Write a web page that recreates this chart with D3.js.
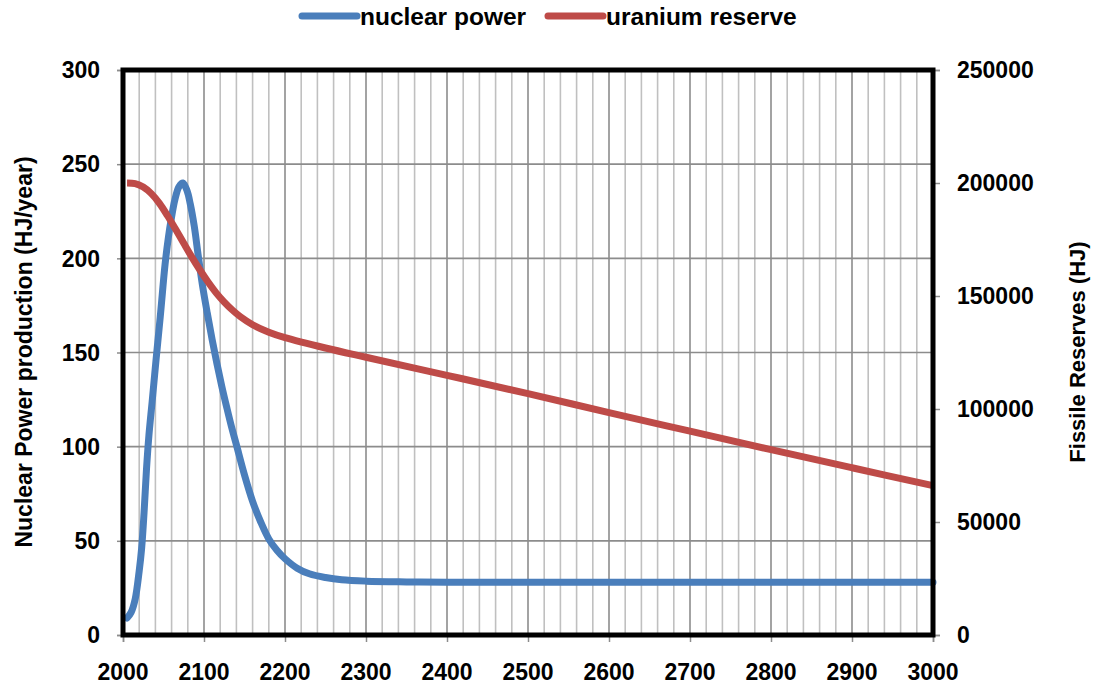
<!DOCTYPE html>
<html>
<head>
<meta charset="utf-8">
<script src="https://cdn.jsdelivr.net/npm/d3@7"></script>
<style>
  html, body { margin: 0; padding: 0; background: #fff; }
  svg { display: block; }
  text { font-family: "Liberation Sans", Arial, sans-serif; font-weight: bold; fill: #000; }
</style>
</head>
<body>
<svg id="chart" width="1095" height="698"></svg>
<script>
// ---- data ----
const powerYears = [2005,2010,2015,2020,2023,2026,2029,2032,2036,2041,2046,2052,2056,2060,2064,2069,2074,2079,2083,2088,2093,2098,2104,2110,2116,2122,2128,2134,2140,2150,2160,2170,2180,2190,2200,2215,2230,2250,2270,2300,2350,2400,2500,2600,2700,2800,2900,3000];
const powerValues = [9,12,19,34,46,65,88,106,124,147,169,197,211,222,231,238,240,236,229,217,201,186,171,157,144,132,121,110.5,101,85,71,60,51,45,40.5,35.5,32.5,30.5,29.3,28.6,28.2,28,28,28,28,28,28,28];
const reserveYears = [2005,2015,2025,2035,2045,2055,2065,2075,2085,2095,2105,2115,2125,2135,2145,2160,2180,2200,2250,2300,2400,2500,2600,2700,2800,2900,3000];
const reserveValues = [200000,199700,198200,195300,191000,185500,179500,173300,167200,161500,156200,151400,147300,143800,140800,137300,134000,131600,127000,122900,114900,106800,98400,90200,82000,74000,66100];
const xTicks = [2000,2100,2200,2300,2400,2500,2600,2700,2800,2900,3000];
const yLeftTicks = [0,50,100,150,200,250,300];
const yRightTicks = [0,50000,100000,150000,200000,250000];
const seriesNames = ["nuclear power", "uranium reserve"];
const seriesColors = ["#4a7ebb", "#be4b48"];
const leftTitle = "Nuclear Power production (HJ/year)";
const rightTitle = "Fissile Reserves (HJ)";

// ---- layout ----
const svg = d3.select("#chart");
const L = 123, R = 933, T = 70, B = 635;
const x = d3.scaleLinear().domain([2000, 3000]).range([L, R]);
const yL = d3.scaleLinear().domain([0, 300]).range([B, T]);
const yR = d3.scaleLinear().domain([0, 250000]).range([B, T]);

// minor vertical grid (every 20 years)
const minor = d3.range(2020, 3000, 20).filter(v => v % 100 !== 0);
svg.append("g").selectAll("line").data(minor).join("line")
  .attr("x1", d => x(d)).attr("x2", d => x(d)).attr("y1", T).attr("y2", B)
  .attr("stroke", "#c0c0c0").attr("stroke-width", 1.6);
// major vertical grid
svg.append("g").selectAll("line").data(xTicks.slice(1, -1)).join("line")
  .attr("x1", d => x(d)).attr("x2", d => x(d)).attr("y1", T).attr("y2", B)
  .attr("stroke", "#8c8c8c").attr("stroke-width", 1.6);
// horizontal grid
svg.append("g").selectAll("line").data(yLeftTicks.slice(1, -1)).join("line")
  .attr("x1", L).attr("x2", R).attr("y1", d => yL(d)).attr("y2", d => yL(d))
  .attr("stroke", "#8c8c8c").attr("stroke-width", 1.6);

// axes (ticks only, gray)
const axL = d3.axisLeft(yL).tickValues(yLeftTicks).tickSize(6).tickFormat("");
const axR = d3.axisRight(yR).tickValues(yRightTicks).tickSize(7).tickFormat("");
const axB = d3.axisBottom(x).tickValues(xTicks).tickSize(7).tickFormat("");
[[axL, `translate(${L},0)`], [axR, `translate(${R},0)`], [axB, `translate(0,${B})`]].forEach(([ax, tr]) => {
  const g = svg.append("g").attr("transform", tr).call(ax);
  g.selectAll("path,line").attr("stroke", "#8c8c8c").attr("stroke-width", 1.5);
});

// series lines
const line = (xs, ys, ysc) => d3.line().x((d, i) => x(xs[i])).y((d, i) => ysc(ys[i]))
  .curve(d3.curveCatmullRom.alpha(0.5))(xs);
svg.append("path").attr("d", line(powerYears, powerValues, yL))
  .attr("fill", "none").attr("stroke", seriesColors[0]).attr("stroke-width", 7)
  .attr("stroke-linecap", "round").attr("stroke-linejoin", "round");
svg.append("path").attr("d", line(reserveYears, reserveValues, yR))
  .attr("fill", "none").attr("stroke", seriesColors[1]).attr("stroke-width", 7)
  .attr("stroke-linecap", "butt").attr("stroke-linejoin", "round");

// border
svg.append("rect").attr("x", L).attr("y", T).attr("width", R - L).attr("height", B - T)
  .attr("fill", "none").attr("stroke", "#000").attr("stroke-width", 5);

// tick labels
const fs = 23;
svg.append("g").selectAll("text").data(yLeftTicks).join("text")
  .attr("x", 100).attr("y", d => yL(d)).attr("dy", "0.36em")
  .attr("text-anchor", "end").attr("font-size", fs).text(d => d);
svg.append("g").selectAll("text").data(yRightTicks).join("text")
  .attr("x", 957).attr("y", d => yR(d)).attr("dy", "0.36em")
  .attr("text-anchor", "start").attr("font-size", fs).text(d => d);
svg.append("g").selectAll("text").data(xTicks).join("text")
  .attr("x", d => x(d)).attr("y", 672).attr("dy", "0.36em")
  .attr("text-anchor", "middle").attr("font-size", fs).text(d => d);

// axis titles
svg.append("text").attr("transform", `translate(32,352) rotate(-90)`)
  .attr("text-anchor", "middle").attr("font-size", 23).text(leftTitle);
svg.append("text").attr("transform", `translate(1085,352) rotate(-90)`)
  .attr("text-anchor", "middle").attr("font-size", 22).text(rightTitle);

// legend
const legX = [302, 548];
seriesNames.forEach((n, i) => {
  svg.append("line").attr("x1", legX[i]).attr("x2", legX[i] + 55).attr("y1", 16).attr("y2", 16)
    .attr("stroke", seriesColors[i]).attr("stroke-width", 7).attr("stroke-linecap", "round");
  svg.append("text").attr("x", legX[i] + 58).attr("y", 16).attr("dy", "0.36em")
    .attr("font-size", 24.5).text(n);
});
</script>
</body>
</html>
